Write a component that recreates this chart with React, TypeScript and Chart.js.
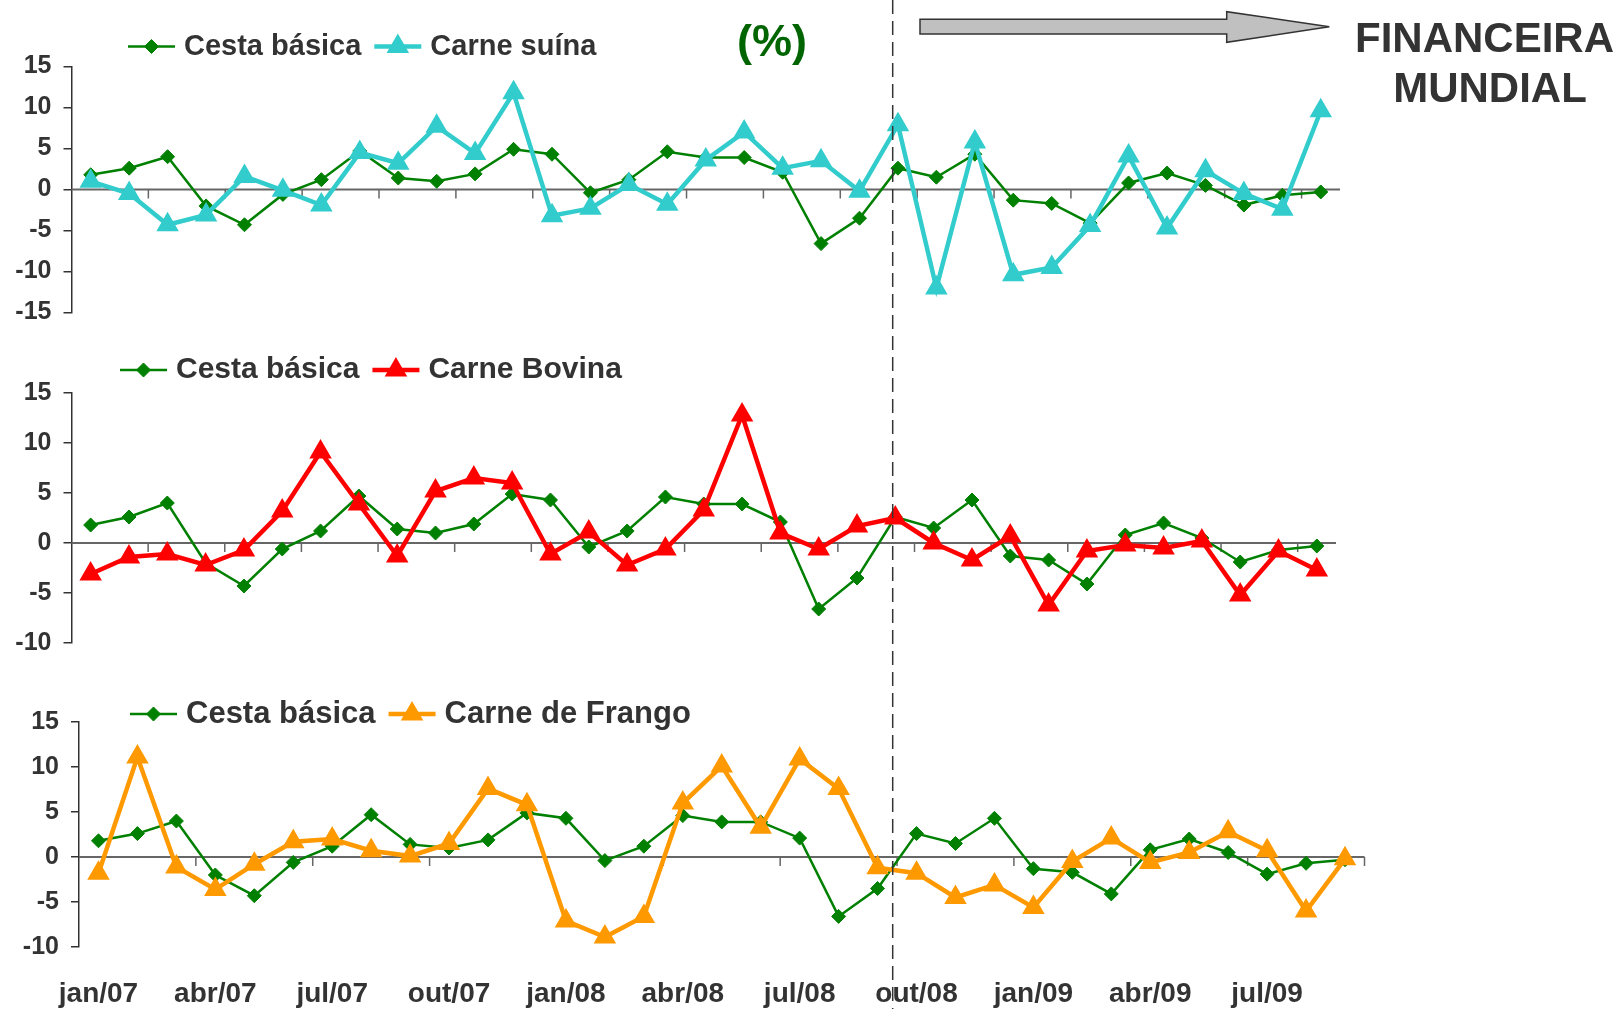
import React, { useEffect, useRef } from 'react';
import { Chart, registerables } from 'chart.js';
import { drawPoint } from 'chart.js/helpers';

Chart.register(...registerables);

const FONT = '"Liberation Sans", Arial, Helvetica, sans-serif';
const TEXT = '#333333';

// Categories: monthly, jan/07 .. set/09
const months = [
  'jan/07', 'fev/07', 'mar/07', 'abr/07', 'mai/07', 'jun/07', 'jul/07', 'ago/07', 'set/07', 'out/07', 'nov/07', 'dez/07',
  'jan/08', 'fev/08', 'mar/08', 'abr/08', 'mai/08', 'jun/08', 'jul/08', 'ago/08', 'set/08', 'out/08', 'nov/08', 'dez/08',
  'jan/09', 'fev/09', 'mar/09', 'abr/09', 'mai/09', 'jun/09', 'jul/09', 'ago/09', 'set/09',
];

// Monthly variation (%)
const cestaBasica = [
  1.8, 2.6, 4.0, -2.0, -4.3, -0.6, 1.2, 4.7, 1.4, 1.0, 1.9, 4.9,
  4.3, -0.4, 1.2, 4.6, 3.9, 3.9, 2.1, -6.6, -3.5, 2.6, 1.5, 4.3,
  -1.3, -1.7, -4.1, 0.8, 2.0, 0.5, -1.9, -0.7, -0.3,
];
const carneSuina = [
  1.0, -0.5, -4.3, -3.1, 1.6, -0.1, -1.9, 4.5, 3.2, 7.7, 4.4, 11.8,
  -3.2, -2.3, 0.6, -1.8, 3.6, 7.0, 2.6, 3.5, -0.2, 7.9, -12.0, 5.8,
  -10.4, -9.5, -4.4, 4.1, -4.7, 2.3, -0.5, -2.4, 9.6,
];
const carneBovina = [
  -3.1, -1.4, -1.1, -2.2, -0.7, 3.2, 9.1, 3.9, -1.3, 5.2, 6.5, 6.0,
  -1.1, 1.1, -2.2, -0.6, 3.3, 12.8, 1.0, -0.6, 1.7, 2.5, 0.0, -1.7,
  0.7, -6.2, -0.8, -0.2, -0.5, 0.2, -5.2, -0.8, -2.7,
];
const carneFrango = [
  -1.8, 11.1, -1.1, -3.6, -0.8, 1.7, 2.0, 0.7, 0.1, 1.5, 7.6, 5.8,
  -7.1, -8.9, -6.6, 6.0, 10.1, 3.3, 10.9, 7.6, -1.2, -1.8, -4.5, -3.1,
  -5.6, -0.5, 2.1, -0.6, 0.5, 2.8, 0.7, -6.0, -0.2,
];

const seriesNames = ['Cesta básica', 'Carne suína', 'Carne Bovina', 'Carne de Frango'];
const topRange = [-15, 15];
const lowRange = [-10, 15];
const yStep = 5;

const GREEN = '#008000';
const CYAN = '#33CCCC';
const RED = '#FF0000';
const ORANGE = '#FF9900';

// legend drawn as Excel-like: line segment + marker + label
const lineLegend = {
  id: 'lineLegend',
  afterDraw(chart: any, _args: any, opts: any) {
    const ctx = chart.ctx;
    ctx.save();
    ctx.font = `bold ${opts.fontSize}px ${FONT}`;
    ctx.textBaseline = 'middle';
    ctx.textAlign = 'left';
    let x = opts.x;
    const y = opts.y;
    chart.data.datasets.forEach((ds: any) => {
      ctx.strokeStyle = ds.borderColor;
      ctx.lineWidth = ds.borderWidth;
      ctx.beginPath();
      ctx.moveTo(x, y);
      ctx.lineTo(x + opts.lineLen, y);
      ctx.stroke();
      ctx.fillStyle = ds.pointBackgroundColor;
      ctx.strokeStyle = ds.pointBorderColor;
      ctx.lineWidth = ds.pointBorderWidth;
      drawPoint(ctx, { pointStyle: ds.pointStyle, radius: ds.pointRadius, rotation: 0, borderWidth: ds.pointBorderWidth }, x + opts.lineLen / 2, y);
      x += opts.lineLen + opts.textGap;
      ctx.fillStyle = TEXT;
      ctx.fillText(ds.label, x, y);
      x += ctx.measureText(ds.label).width + opts.itemGap;
    });
    ctx.restore();
  },
};

// category axis crossing at zero, with tick marks between categories
const zeroAxis = {
  id: 'zeroAxis',
  beforeDatasetsDraw(chart: any, _args: any, opts: any) {
    const { ctx, chartArea, scales } = chart;
    const xs = scales.x;
    const y = scales.y.getPixelForValue(0);
    const n = chart.data.labels.length;
    const half = (xs.getPixelForValue(1) - xs.getPixelForValue(0)) / 2;
    ctx.save();
    ctx.strokeStyle = '#666666';
    ctx.lineWidth = 2;
    ctx.beginPath();
    ctx.moveTo(chartArea.left, y);
    ctx.lineTo(chartArea.right, y);
    ctx.stroke();
    ctx.lineWidth = 1.5;
    ctx.beginPath();
    for (let k = opts.every; k <= n; k += opts.every) {
      const px = xs.getPixelForValue(k - 1) + half;
      ctx.moveTo(px, y);
      ctx.lineTo(px, y + opts.len);
    }
    ctx.stroke();
    ctx.restore();
  },
};

function cestaDataset() {
  return {
    label: seriesNames[0],
    data: cestaBasica,
    borderColor: GREEN,
    backgroundColor: GREEN,
    borderWidth: 2.5,
    pointStyle: 'rectRot',
    pointRadius: 7,
    pointBackgroundColor: GREEN,
    pointBorderColor: GREEN,
    pointBorderWidth: 1,
    tension: 0,
    order: 2,
  };
}

function meatDataset(name: string, values: number[], color: string) {
  return {
    label: name,
    data: values,
    borderColor: color,
    backgroundColor: color,
    borderWidth: 4.5,
    pointStyle: 'triangle',
    pointRadius: 11.5,
    pointBackgroundColor: color,
    pointBorderColor: color,
    pointBorderWidth: 1.5,
    tension: 0,
    order: 1,
  };
}

type PanelOpts = {
  values: number[];
  name: string;
  color: string;
  range: number[];
  padTop: number;
  padRight: number;
  padBottom: number;
  yWidth: number;
  showLabels: boolean;
  xHeight: number;
  legendX: number;
  legendY: number;
  legendSize: number;
  tickEvery: number;
};

function makeConfig(o: PanelOpts): any {
  return {
    type: 'line',
    data: {
      labels: months,
      datasets: [cestaDataset(), meatDataset(o.name, o.values, o.color)],
    },
    plugins: [lineLegend, zeroAxis],
    options: {
      animation: false,
      responsive: false,
      devicePixelRatio: 1,
      events: [],
      layout: { padding: { top: o.padTop, right: o.padRight, bottom: o.padBottom, left: 0 } },
      plugins: {
        legend: { display: false },
        tooltip: { enabled: false },
        lineLegend: { x: o.legendX, y: o.legendY, fontSize: o.legendSize, lineLen: 47, textGap: 9, itemGap: 13 },
        zeroAxis: { every: o.tickEvery, len: 9 },
      },
      scales: {
        x: {
          type: 'category',
          offset: true,
          display: o.showLabels,
          grid: { display: false, drawTicks: false },
          border: { display: false },
          ticks: {
            autoSkip: false,
            maxRotation: 0,
            minRotation: 0,
            padding: 30,
            color: TEXT,
            font: { family: FONT, size: 28, weight: 'bold' },
            callback: (_v: any, i: number) => (i % 3 === 0 ? months[i] : ''),
          },
          afterFit: (s: any) => { s.height = o.xHeight; },
        },
        y: {
          min: o.range[0],
          max: o.range[1],
          ticks: {
            stepSize: yStep,
            padding: 12,
            color: TEXT,
            font: { family: FONT, size: 25, weight: 'bold' },
          },
          grid: { drawOnChartArea: false, drawTicks: true, tickLength: 8, color: '#333333', lineWidth: 1.5 },
          border: { display: true, color: '#333333', width: 1.5 },
          afterFit: (s: any) => { s.width = o.yWidth; },
        },
      },
    },
  };
}

export default function App() {
  const r1 = useRef<HTMLCanvasElement>(null);
  const r2 = useRef<HTMLCanvasElement>(null);
  const r3 = useRef<HTMLCanvasElement>(null);

  useEffect(() => {
    const charts: Chart[] = [];
    charts.push(new Chart(r1.current as HTMLCanvasElement, makeConfig({
      values: carneSuina, name: seriesNames[1], color: CYAN, range: topRange,
      padTop: 66.5, padRight: 280, padBottom: 32.5, yWidth: 71.5, showLabels: false, xHeight: 0,
      legendX: 128, legendY: 46.5, legendSize: 29, tickEvery: 2,
    })));
    charts.push(new Chart(r2.current as HTMLCanvasElement, makeConfig({
      values: carneBovina, name: seriesNames[2], color: RED, range: lowRange,
      padTop: 63, padRight: 284, padBottom: 32, yWidth: 71.5, showLabels: false, xHeight: 0,
      legendX: 120, legendY: 40, legendSize: 30, tickEvery: 2,
    })));
    charts.push(new Chart(r3.current as HTMLCanvasElement, makeConfig({
      values: carneFrango, name: seriesNames[3], color: ORANGE, range: lowRange,
      padTop: 62, padRight: 255.5, padBottom: 0, yWidth: 79, showLabels: true, xHeight: 62,
      legendX: 130, legendY: 54, legendSize: 31, tickEvery: 3,
    })));
    return () => { charts.forEach((c) => c.destroy()); };
  }, []);

  const canvasStyle = (top: number): React.CSSProperties => ({ position: 'absolute', left: 0, top, display: 'block' });

  return (
    <div style={{ position: 'absolute', left: 0, top: 0, width: 1620, height: 1009, background: '#ffffff', overflow: 'hidden' }}>
      <canvas ref={r1} width={1620} height={345} style={canvasStyle(0)} />
      <canvas ref={r2} width={1620} height={345} style={canvasStyle(330)} />
      <canvas ref={r3} width={1620} height={349} style={canvasStyle(660)} />
      <svg width={1620} height={1009} style={{ position: 'absolute', left: 0, top: 0, pointerEvents: 'none' }}>
        <line x1={892.7} y1={0} x2={892.7} y2={1009} stroke="#333333" strokeWidth={1.5} strokeDasharray="14 7" />
        <polygon
          points="920,19.3 1226.7,19.3 1226.7,11.7 1329.3,26.7 1226.7,42.3 1226.7,34 920,34"
          fill="#c0c0c0"
          stroke="#333333"
          strokeWidth={1.5}
        />
        <text x={772} y={40} textAnchor="middle" dominantBaseline="central" fill="#006400"
          style={{ font: `bold 45px ${FONT}` }}>(%)</text>
        <text x={1484.5} y={37} textAnchor="middle" dominantBaseline="central" fill={TEXT}
          style={{ font: `bold 42px ${FONT}` }}>FINANCEIRA</text>
        <text x={1490} y={87.5} textAnchor="middle" dominantBaseline="central" fill={TEXT}
          style={{ font: `bold 42px ${FONT}` }}>MUNDIAL</text>
      </svg>
    </div>
  );
}
